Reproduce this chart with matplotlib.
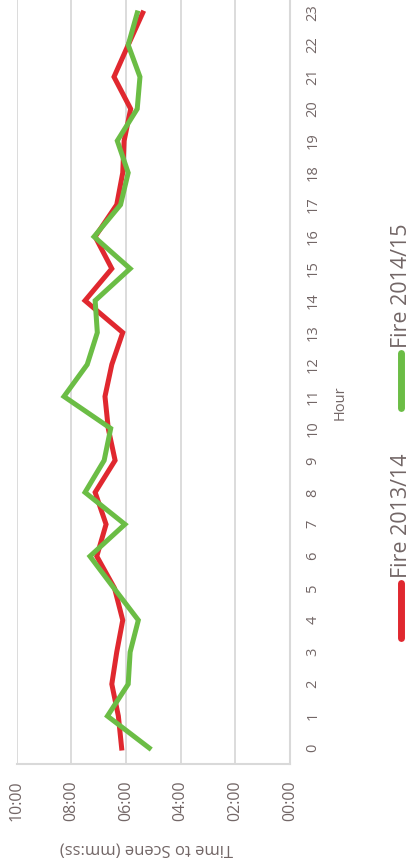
import matplotlib
matplotlib.use("Agg")
import matplotlib.pyplot as plt
from matplotlib.lines import Line2D

plt.rcParams['font.family'] = ['Open Sans', 'DejaVu Sans']

# Average time to scene per hour of day, in minutes
hours = list(range(24))
fire_2013_14 = [6.16, 6.28, 6.52, 6.34, 6.12, 6.42, 7.07, 6.73, 7.13, 6.40,
                6.65, 6.77, 6.52, 6.12, 7.50, 6.52, 7.13, 6.34, 6.12, 6.07,
                5.83, 6.44, 5.92, 5.39]
fire_2014_15 = [5.15, 6.68, 5.92, 5.85, 5.55, 6.44, 7.32, 6.04, 7.50, 6.80,
                6.56, 8.27, 7.42, 7.05, 7.13, 5.85, 7.17, 6.20, 5.92, 6.32,
                5.59, 5.49, 5.92, 5.59]
series_names = ["Fire 2013/14", "Fire 2014/15"]
time_ticks = [0, 2, 4, 6, 8, 10]
time_labels = ["00:00", "02:00", "04:00", "06:00", "08:00", "10:00"]

RED = "#E0282F"
GREEN = "#6BBD45"
TEXT = "#726666"
GRID = "#d9d9d9"

W, H = 412, 868
fig = plt.figure(figsize=(W / 100, H / 100), dpi=100)
left_px, right_px, top_px, bottom_px = 16.7, 290, -3, 764
ax = fig.add_axes([left_px / W, 1 - bottom_px / H,
                   (right_px - left_px) / W, (bottom_px - top_px) / H])

ax.plot(fire_2013_14, hours, color=RED, lw=3.6, solid_joinstyle='miter', zorder=3)
ax.plot(fire_2014_15, hours, color=GREEN, lw=3.6, solid_joinstyle='miter', zorder=4)

ax.set_xlim(10, 0)
ax.set_ylim(-0.5, 23.5)
ax.set_xticks(time_ticks)
ax.set_xticklabels(time_labels, rotation=90, color=TEXT, fontsize=11.5)
ax.set_yticks(hours)
ax.set_yticklabels([str(h) for h in hours], rotation=90, color=TEXT,
                   fontsize=10.5, va='center')
ax.yaxis.tick_right()
ax.tick_params(axis='x', length=0, pad=11.5)
ax.tick_params(axis='y', length=0, pad=11)
ax.grid(axis='x', color=GRID, lw=1.3)
ax.set_axisbelow(True)
for side in ['top', 'left']:
    ax.spines[side].set_visible(False)
for side in ['right', 'bottom']:
    ax.spines[side].set_color(GRID)
    ax.spines[side].set_linewidth(1.5)

# Axis titles
fig.text(146 / W, 1 - 848 / H, "Time to Scene (mm:ss)", rotation=180,
         ha='center', va='center', color=TEXT, fontsize=12)
fig.text(340 / W, 1 - 403 / H, "Hour", rotation=90,
         ha='center', va='center', color=TEXT, fontsize=10.5)

# Legend
legend_x = 401 / W
for color, name, (y0, y1) in [(RED, series_names[0], (638, 583)),
                               (GREEN, series_names[1], (408, 353))]:
    fig.add_artist(Line2D([legend_x, legend_x], [1 - y0 / H, 1 - y1 / H],
                          transform=fig.transFigure, color=color, lw=5,
                          solid_capstyle='round'))
    fig.text(legend_x + 0.5 / W, 1 - (y1 - 5) / H, name, rotation=90,
             ha='center', va='bottom', color=TEXT, fontsize=15.5)

fig.savefig("out.png", dpi=100, facecolor='white')
